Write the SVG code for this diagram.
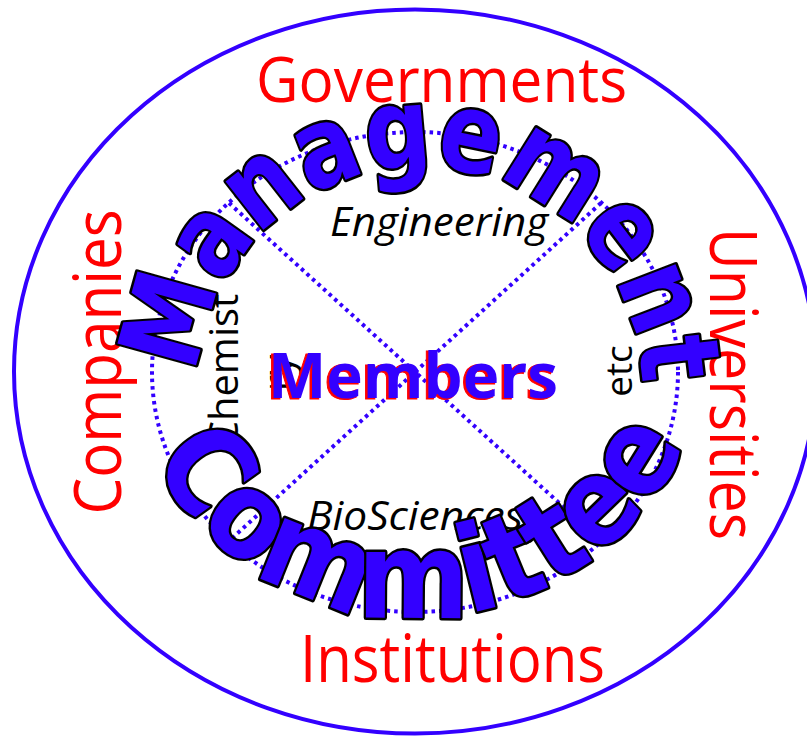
<svg xmlns="http://www.w3.org/2000/svg" width="807" height="736" viewBox="0 0 807 736">
  <style>
    .lbl { font-family: "Open Sans", "Noto Sans", "Liberation Sans", sans-serif; fill: #ff0000; }
    .sub { font-family: "Open Sans", "Noto Sans", "Liberation Sans", sans-serif; fill: #000000; }
    .it { font-style: italic; }
    .arc { font-family: "DejaVu Sans", "Liberation Sans", sans-serif; font-weight: bold; fill: #3300ff; stroke: #000000; stroke-width: 5; stroke-linejoin: round; paint-order: stroke; }
    .dot { fill: none; stroke: #3300ff; stroke-width: 4; stroke-dasharray: 3.5 4; }
    .mem { font-family: "Open Sans", "Noto Sans", "Liberation Sans", sans-serif; font-weight: bold; }
  </style>
  <defs>
    <path id="arcTop" d="M 198.5,374.5 A 222 222 0 0 1 642,386.1"/>
    <path id="arcBot" d="M 151.9,459.9 A 298 298 0 0 0 682.8,450.6"/>
  </defs>
  <rect width="807" height="736" fill="#ffffff"/>

  <g id="outer">
    <ellipse cx="415" cy="371.5" rx="401" ry="362" fill="none" stroke="#3300ff" stroke-width="4"/>
  </g>

  <g id="connectors">
    <ellipse class="dot" cx="415" cy="372" rx="263" ry="240"/>
    <line class="dot" x1="229" y1="203" x2="601" y2="541"/>
    <line class="dot" x1="601" y1="203" x2="229" y2="541"/>
  </g>

  <g id="governments">
    <text class="lbl" x="441.5" y="102" font-size="62" text-anchor="middle" textLength="371" lengthAdjust="spacingAndGlyphs">Governments</text>
  </g>
  <g id="institutions">
    <text class="lbl" x="452.5" y="682" font-size="66" text-anchor="middle" textLength="305" lengthAdjust="spacingAndGlyphs">Institutions</text>
  </g>
  <g id="companies">
    <text class="lbl" transform="translate(121,362) rotate(-90)" font-size="66" text-anchor="middle" textLength="305" lengthAdjust="spacingAndGlyphs">Companies</text>
  </g>
  <g id="universities">
    <text class="lbl" transform="translate(710,384) rotate(90)" font-size="66" text-anchor="middle" textLength="312" lengthAdjust="spacingAndGlyphs">Universities</text>
  </g>

  <g id="engineering">
    <text class="sub it" x="439" y="236" font-size="40" text-anchor="middle" textLength="218" lengthAdjust="spacingAndGlyphs">Engineering</text>
  </g>
  <g id="biosciences">
    <text class="sub it" x="415" y="530" font-size="40" text-anchor="middle" textLength="216" lengthAdjust="spacingAndGlyphs">BioSciences</text>
  </g>
  <g id="chemistry">
    <text class="sub" transform="translate(238,370) rotate(-90)" font-size="40" text-anchor="middle">Chemist</text>
    <text class="sub" transform="translate(292,373) rotate(-90)" font-size="40" text-anchor="middle">ry</text>
  </g>
  <g id="etc">
    <text class="sub" transform="translate(632,371) rotate(-90)" font-size="37" text-anchor="middle">etc</text>
  </g>

  <g id="management">
    <text class="arc" font-size="112"><textPath href="#arcTop" textLength="678" lengthAdjust="spacingAndGlyphs">Management</textPath></text>
  </g>
  <g id="committee">
    <text class="arc" font-size="120"><textPath href="#arcBot" textLength="661" lengthAdjust="spacingAndGlyphs">Committee</textPath></text>
  </g>

  <g id="members">
    <text class="mem" x="411" y="399" font-size="63" text-anchor="middle" textLength="290" lengthAdjust="spacingAndGlyphs" fill="#ff0000" stroke="#ff0000" stroke-width="1">Members</text>
    <text class="mem" x="413" y="398" font-size="63" text-anchor="middle" textLength="290" lengthAdjust="spacingAndGlyphs" fill="#3300ff">Members</text>
  </g>
</svg>
